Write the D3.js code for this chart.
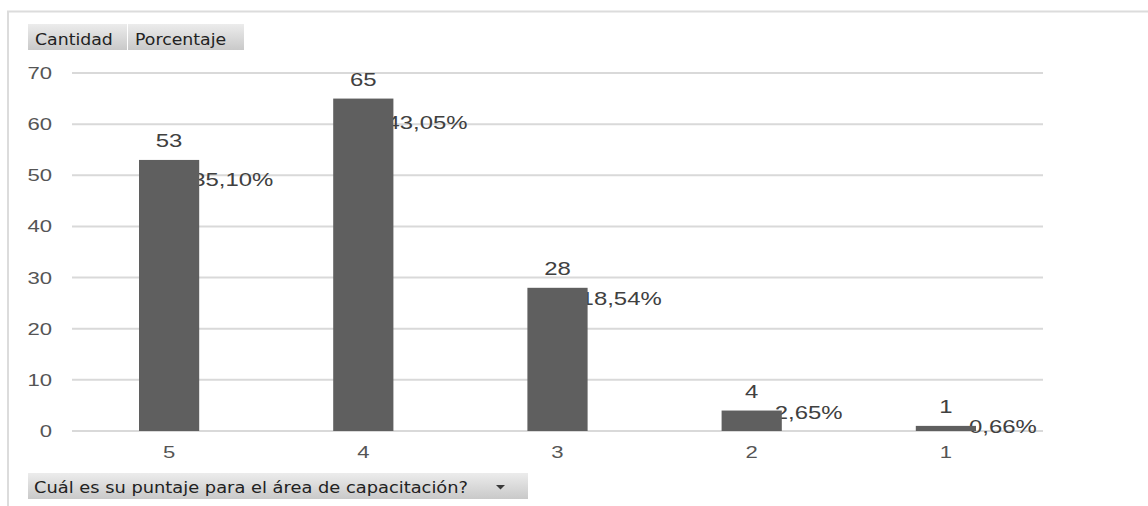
<!DOCTYPE html>
<html>
<head>
<meta charset="utf-8">
<script src="https://cdn.jsdelivr.net/npm/d3@7"></script>
<style>
  html, body { margin: 0; padding: 0; background: #fff; }
  svg { display: block; }
</style>
</head>
<body>
<svg id="chart" width="1148" height="506"></svg>
<script>
// Score categories, counts and share of responses
const categories = ["5", "4", "3", "2", "1"];
const counts = [53, 65, 28, 4, 1];
const percents = [35.10, 43.05, 18.54, 2.65, 0.66];
const yTicks = [0, 10, 20, 30, 40, 50, 60, 70];
const tabLabels = ["Cantidad", "Porcentaje"];
const fieldLabel = "Cuál es su puntaje para el área de capacitación?";

const svg = d3.select("#chart");
const W = 1148, H = 506;
const plot = { left: 72, right: 1043, top: 73, bottom: 431 };

const defs = svg.append("defs");
const grad = defs.append("linearGradient").attr("id", "btnGrad")
  .attr("x1", 0).attr("y1", 0).attr("x2", 0).attr("y2", 1);
grad.append("stop").attr("offset", "0%").attr("stop-color", "#ececec");
grad.append("stop").attr("offset", "100%").attr("stop-color", "#c9c9c9");

// outer frame
svg.append("path")
  .attr("d", `M8,${H} L8,11.5 L${W},11.5`)
  .attr("fill", "none").attr("stroke", "#dcdcdc").attr("stroke-width", 2);

// tab buttons
const tabs = [{ x: 28, w: 99 }, { x: 128, w: 116 }];
tabs.forEach((t, i) => {
  svg.append("rect").attr("x", t.x).attr("y", 24).attr("width", t.w).attr("height", 26)
    .attr("fill", "url(#btnGrad)");
  svg.append("text")
    .attr("transform", `translate(${t.x + 7},45) scale(1.05,1)`)
    .attr("font-family", "DejaVu Sans, Verdana, sans-serif")
    .attr("font-size", 16.5).attr("fill", "#222")
    .text(tabLabels[i]);
});

// scales
const x = d3.scaleBand().domain(categories).range([plot.left, plot.right]).paddingInner(0.69).paddingOuter(0.345);
const y = d3.scaleLinear().domain([0, 70]).range([plot.bottom, plot.top]);
const yPct = d3.scaleLinear().domain([0, 50]).range([plot.bottom, plot.top]);

// gridlines
svg.append("g").selectAll("line").data(yTicks).join("line")
  .attr("x1", plot.left).attr("x2", plot.right)
  .attr("y1", d => y(d)).attr("y2", d => y(d))
  .attr("stroke", "#d9d9d9").attr("stroke-width", 2);

const axisFont = "Liberation Sans, Arial, sans-serif";

// y tick labels
svg.append("g").selectAll("text").data(yTicks).join("text")
  .attr("transform", d => `translate(52,${y(d) + 6}) scale(1.3,1)`)
  .attr("text-anchor", "end")
  .attr("font-family", axisFont)
  .attr("font-size", 17).attr("fill", "#555")
  .text(d => d);

// x category labels
svg.append("g").selectAll("text").data(categories).join("text")
  .attr("transform", d => `translate(${x(d) + x.bandwidth() / 2},457.5) scale(1.3,1)`)
  .attr("text-anchor", "middle")
  .attr("font-family", axisFont)
  .attr("font-size", 17).attr("fill", "#555")
  .text(d => d);

const data = categories.map((c, i) => ({ cat: c, count: counts[i], pct: percents[i] }));
const fmtPct = v => v.toFixed(2).replace(".", ",") + "%";

// percentage labels (sit partly behind the bars)
svg.append("g").selectAll("text").data(data).join("text")
  .attr("transform", d => `translate(${x(d.cat) + x.bandwidth() - 7},${yPct(d.pct) + 6.5}) scale(1.33,1)`)
  .attr("font-family", axisFont)
  .attr("font-size", 18).attr("fill", "#404040")
  .text(d => fmtPct(d.pct));

// bars
svg.append("g").selectAll("rect").data(data).join("rect")
  .attr("x", d => x(d.cat)).attr("width", x.bandwidth())
  .attr("y", d => y(d.count)).attr("height", d => y(0) - y(d.count))
  .attr("fill", "#5f5f5f");

// count labels
svg.append("g").selectAll("text").data(data).join("text")
  .attr("transform", d => `translate(${x(d.cat) + x.bandwidth() / 2},${y(d.count) - 13}) scale(1.33,1)`)
  .attr("text-anchor", "middle")
  .attr("font-family", axisFont)
  .attr("font-size", 18).attr("fill", "#404040")
  .text(d => d.count);

// field dropdown
svg.append("rect").attr("x", 28).attr("y", 473).attr("width", 500).attr("height", 26)
  .attr("fill", "url(#btnGrad)");
svg.append("text")
  .attr("x", 34).attr("y", 493)
  .attr("textLength", 434).attr("lengthAdjust", "spacingAndGlyphs")
  .attr("font-family", "DejaVu Sans, Verdana, sans-serif")
  .attr("font-size", 16.5).attr("fill", "#222")
  .text(fieldLabel);
svg.append("path")
  .attr("d", "M496,485 L505,485 L500.5,489.5 Z")
  .attr("fill", "#3a3a3a");
</script>
</body>
</html>
